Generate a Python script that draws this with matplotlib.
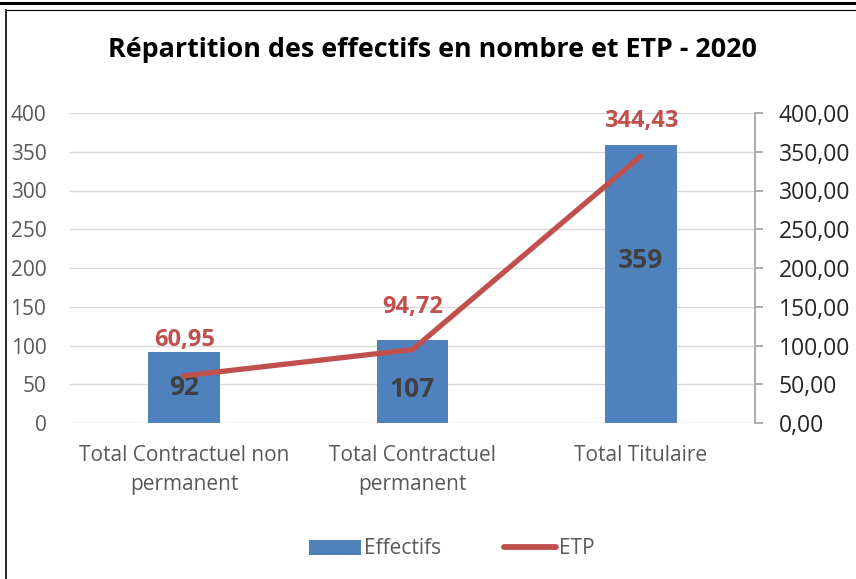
import matplotlib
matplotlib.use("Agg")
import matplotlib.pyplot as plt
from matplotlib.lines import Line2D
from matplotlib.patches import Patch

plt.rcParams['font.family'] = ['Open Sans', 'DejaVu Sans']

categories = ["Total Contractuel non\npermanent", "Total Contractuel\npermanent", "Total Titulaire"]
effectifs = [92, 107, 359]
etp = [60.95, 94.72, 344.43]
left_ticks = [0, 50, 100, 150, 200, 250, 300, 350, 400]
right_ticks = [0, 50, 100, 150, 200, 250, 300, 350, 400]

bar_color = "#4F81BD"
line_color = "#C0504D"
grey = "#595959"

fig = plt.figure(figsize=(8.56, 5.79), dpi=100)
ax = fig.add_axes([70/856, 1-423/579, 685/856, 310/579])
x = list(range(len(categories)))
ax.bar(x, effectifs, width=0.315, color=bar_color, zorder=2)
ax.set_xlim(-0.5, 2.5)
ax.set_ylim(0, 400)
ax.set_yticks(left_ticks)
ax.set_yticklabels([str(t) for t in left_ticks])
ax.grid(axis='y', color="#D9D9D9", linewidth=1, zorder=0)
for s in ['left', 'right', 'top', 'bottom']:
    ax.spines[s].set_visible(False)
ax.tick_params(axis='y', length=0, labelsize=15, labelcolor=grey, pad=17)
ax.tick_params(axis='x', length=0, labelsize=15, labelcolor=grey, pad=16)
ax.set_xticks(x)
ax.set_xticklabels(categories, linespacing=1.5)

# bar labels
bar_label_y = [46, 43, 210]
for xi, v, ly in zip(x, effectifs, bar_label_y):
    ax.text(xi, ly, str(v), ha='center', va='center', fontsize=19, fontweight='bold', color="#404040", zorder=5)

ax2 = ax.twinx()
ax2.set_ylim(0, 400)
ax2.plot(x, etp, color=line_color, linewidth=3.8, solid_capstyle='round', zorder=3)
ax2.set_yticks(right_ticks)
ax2.set_yticklabels([f"{t:.2f}".replace('.', ',') for t in right_ticks])
for s in ['left', 'top', 'bottom']:
    ax2.spines[s].set_visible(False)
ax2.spines['right'].set_color("#A6A6A6")
ax2.spines['right'].set_linewidth(1.3)
ax2.tick_params(axis='y', length=6, width=1.3, color="#A6A6A6", labelsize=16.5, labelcolor="#262626", pad=11)
offsets = [26, 31, 25]
for xi, v, off in zip(x, etp, offsets):
    ax2.annotate(f"{v:.2f}".replace('.', ','), (xi, v), xytext=(0, off), textcoords='offset points',
                 ha='center', va='center', fontsize=17, fontweight='bold', color=line_color)

fig.text(432/856, 1-50/579, "Répartition des effectifs en nombre et ETP - 2020", ha='center', va='center',
         fontsize=19.4, fontweight='bold', color='black')

handles = [Patch(facecolor=bar_color, edgecolor='none'),
           Line2D([0], [0], color=line_color, linewidth=4.2, solid_capstyle='round')]
leg = fig.legend(handles, ["Effectifs", "ETP"], loc='center', bbox_to_anchor=(452/856, 1-549/579), ncol=2,
                 frameon=False, fontsize=15, labelcolor=grey, handlelength=2.5, handletextpad=0.15,
                 columnspacing=3.0)

# frame lines
fig.add_artist(Line2D([0, 1], [1-3/579, 1-3/579], color='black', linewidth=2.2, transform=fig.transFigure))
fig.add_artist(Line2D([6/856, 1], [1-10/579, 1-10/579], color='black', linewidth=0.8, transform=fig.transFigure))
fig.add_artist(Line2D([6/856, 6/856], [0, 1-10/579], color='black', linewidth=1.2, transform=fig.transFigure))

fig.savefig("out.png", dpi=100)
